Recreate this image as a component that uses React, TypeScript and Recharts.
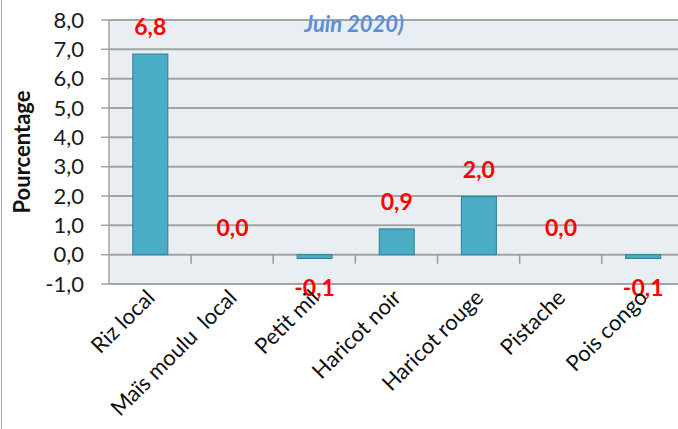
import { BarChart, Bar, XAxis, YAxis, CartesianGrid } from "recharts";

const categories = [
  "Riz local",
  "Maïs moulu  local",
  "Petit mil",
  "Haricot noir",
  "Haricot rouge",
  "Pistache",
  "Pois congo",
];
const variations = [6.84, 0.0, -0.13, 0.88, 1.98, 0.0, -0.13];
const yTicks = [-1, 0, 1, 2, 3, 4, 5, 6, 7, 8];

const data = categories.map((name, i) => ({ name, value: variations[i] }));

const FONT = "Lato, 'Open Sans', sans-serif";
const PLOT_TOP = 20;
const PLOT_H = 264;
const Y_MIN = -1;
const Y_MAX = 8;
const ZERO_Y = PLOT_TOP + (PLOT_H * Y_MAX) / (Y_MAX - Y_MIN);

const fmt = (v: number) => v.toFixed(1).replace(".", ",");

function CategoryTick(props: any) {
  const { x, payload, index } = props;
  const half = 41;
  return (
    <g>
      {index < categories.length - 1 && (
        <line
          x1={x + half}
          x2={x + half}
          y1={ZERO_Y}
          y2={ZERO_Y + 9}
          stroke="#9a9a9a"
          strokeWidth={1.5}
        />
      )}
      <text
        x={x + 6}
        y={299}
        transform={`rotate(-45, ${x + 6}, 299)`}
        textAnchor="end"
        fontFamily={FONT}
        fontSize={22}
        fill="#111"
        style={{ whiteSpace: "pre" }}
      >
        {payload.value}
      </text>
    </g>
  );
}

// bar rectangle plus its red value label
function LabeledBar(props: any) {
  const { x, y, width, height } = props;
  const v = props.payload.value;
  const top = Math.min(y, y + height);
  const bottom = Math.max(y, y + height);
  const h = bottom - top;
  const ty = v < 0 ? bottom + 38 : top - 19;
  return (
    <g>
      {h > 0.5 && (
        <rect
          x={x}
          y={top}
          width={width}
          height={h}
          fill="#4bacc6"
          stroke="#2f7f95"
          strokeWidth={1}
        />
      )}
      <text
        x={x + width / 2}
        y={ty}
        textAnchor="middle"
        fontFamily={FONT}
        fontWeight="bold"
        fontSize={23}
        fill="#ff0000"
      >
        {fmt(v)}
      </text>
    </g>
  );
}

export default function App() {
  return (
    <div
      style={{
        position: "absolute",
        left: 0,
        top: 0,
        width: 678,
        height: 429,
        overflow: "hidden",
        background: "#fff",
      }}
    >
      <div
        style={{
          position: "absolute",
          left: 1,
          top: 0,
          width: 1,
          height: 429,
          background: "#a6a6a6",
        }}
      />
      <BarChart
        width={684}
        height={429}
        data={data}
        margin={{ top: PLOT_TOP, right: 0, bottom: 0, left: 0 }}
        barCategoryGap="29%"
      >
        <CartesianGrid
          vertical={false}
          stroke="#a3a3a3"
          strokeWidth={2}
          fill="#e8eef2"
        />
        <XAxis
          dataKey="name"
          interval={0}
          axisLine={false}
          tickLine={false}
          height={429 - PLOT_TOP - PLOT_H}
          tick={<CategoryTick />}
        />
        <YAxis
          domain={[Y_MIN, Y_MAX]}
          ticks={yTicks}
          width={109}
          interval={0}
          tickFormatter={fmt}
          axisLine={{ stroke: "#a3a3a3", strokeWidth: 1.5 }}
          tickLine={{ stroke: "#a3a3a3", strokeWidth: 1.5 }}
          tickSize={8}
          tickMargin={17}
          tick={{ fontFamily: FONT, fontSize: 22, fill: "#1a1a1a" }}
          label={{
            content: (p: any) => {
              const vb = p.viewBox || { y: PLOT_TOP, height: PLOT_H };
              const cy = vb.y + vb.height / 2;
              return (
                <text
                  x={30}
                  y={cy}
                  transform={`rotate(-90, 30, ${cy})`}
                  textAnchor="middle"
                  fontFamily={FONT}
                  fontWeight="bold"
                  fontSize={22}
                  fill="#111"
                >
                  Pourcentage
                </text>
              );
            },
          }}
        />
        <Bar
          dataKey="value"
          fill="#4bacc6"
          isAnimationActive={false}
          shape={<LabeledBar />}
        />
      </BarChart>
      <div
        style={{
          position: "absolute",
          left: 254,
          top: 10,
          width: 200,
          textAlign: "center",
          fontFamily: FONT,
          fontStyle: "italic",
          fontWeight: "bold",
          fontSize: 22,
          color: "#5a8fd6",
          lineHeight: "28px",
        }}
      >
        Juin 2020)
      </div>
    </div>
  );
}
